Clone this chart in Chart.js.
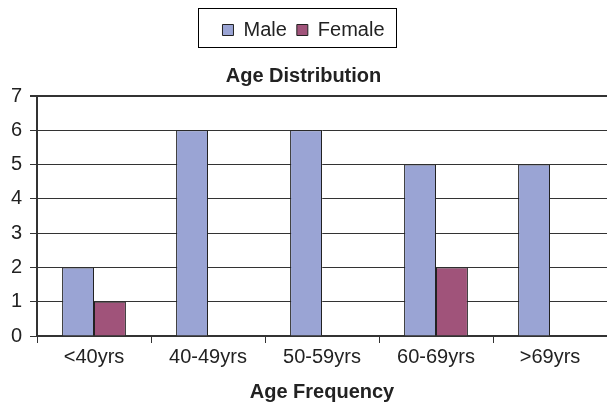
<!DOCTYPE html>
<html>
<head>
<meta charset="utf-8">
<script src="https://cdn.jsdelivr.net/npm/chart.js@4"></script>
<style>
  html, body { margin: 0; padding: 0; background: #fff; }
  #wrap { width: 607px; height: 404px; }
</style>
</head>
<body>
<div id="wrap"><canvas id="chart-age"></canvas></div>
<script>
// Age groups and counts
const ageGroups = ['<40yrs', '40-49yrs', '50-59yrs', '60-69yrs', '>69yrs'];
const maleCounts = [2, 6, 6, 5, 5];
const femaleCounts = [1, 0, 0, 2, 0];
const yTicks = [0, 1, 2, 3, 4, 5, 6, 7];

const FONT = "'Liberation Sans', Arial, sans-serif";
const INK = '#222';
const LINE = '#333';

// Draw a rectangle around the legend items
const legendFrame = {
    id: 'legendFrame',
    afterDraw(chart) {
        const boxes = chart.legend && chart.legend.legendHitBoxes;
        if (!boxes || !boxes.length) return;
        const left = Math.min(...boxes.map(b => b.left));
        const right = Math.max(...boxes.map(b => b.left + b.width));
        const mid = boxes[0].top + boxes[0].height / 2;
        const ctx = chart.ctx;
        ctx.save();
        ctx.strokeStyle = '#000';
        ctx.lineWidth = 1;
        ctx.strokeRect(Math.round(left - 24) + 0.5, Math.round(mid - 22) + 0.5,
            Math.round(right - left + 36), 39);
        ctx.restore();
    }
};

new Chart(document.getElementById('chart-age'), {
    type: 'bar',
    data: {
        labels: ageGroups,
        datasets: [{
            label: 'Male',
            data: maleCounts,
            backgroundColor: '#9aa4d4',
            borderColor: '#222',
            borderWidth: 1
        }, {
            label: 'Female',
            data: femaleCounts,
            backgroundColor: '#a0537a',
            borderColor: '#222',
            borderWidth: 1
        }]
    },
    options: {
        responsive: true,
        maintainAspectRatio: false,
        animation: false,
        datasets: {
            bar: { categoryPercentage: 0.56, barPercentage: 1.0 }
        },
        layout: { padding: { top: 10, left: 0, right: 0, bottom: 0 } },
        plugins: {
            legend: {
                labels: {
                    font: { family: FONT, size: 20 },
                    color: INK,
                    boxWidth: 11,
                    boxHeight: 11,
                    padding: 10
                }
            },
            title: {
                display: true,
                weight: 500,
                text: 'Age Distribution',
                color: INK,
                font: { family: FONT, size: 20, weight: 'bold' },
                padding: { top: 14, bottom: 8 }
            },
            tooltip: { enabled: false }
        },
        scales: {
            x: {
                offset: true,
                grid: {
                    display: true,
                    drawOnChartArea: false,
                    drawTicks: true,
                    offset: true,
                    tickLength: 7,
                    color: LINE
                },
                border: { display: true, color: LINE, width: 2 },
                ticks: {
                    color: INK,
                    font: { family: FONT, size: 20 },
                    padding: 2,
                    maxRotation: 0
                },
                title: {
                    display: true,
                    text: 'Age Frequency',
                    color: INK,
                    font: { family: FONT, size: 20, weight: 'bold' },
                    padding: { top: 9, bottom: 0 }
                }
            },
            y: {
                min: yTicks[0],
                max: yTicks[yTicks.length - 1],
                afterFit(scale) { scale.width = 37; },
                grid: {
                    color: LINE,
                    lineWidth: ctx => (ctx.tick && ctx.tick.value === 7 ? 2 : 1),
                    tickLength: 7
                },
                border: { display: true, color: LINE, width: 2 },
                ticks: {
                    stepSize: 1,
                    color: INK,
                    font: { family: FONT, size: 20 },
                    padding: 8
                }
            }
        }
    },
    plugins: [legendFrame]
});
</script>
</body>
</html>
